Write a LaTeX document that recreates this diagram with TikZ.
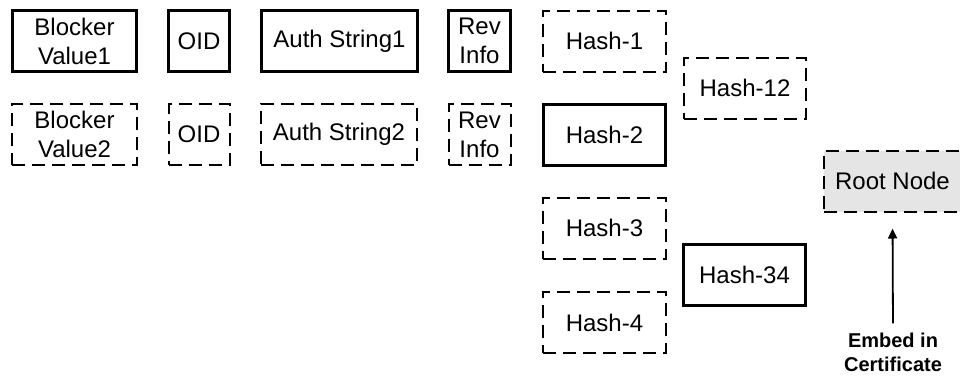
\documentclass[tikz,border=0pt]{standalone}
\usepackage{fontspec}
\setmainfont{Liberation Sans}
\usetikzlibrary{arrows.meta}
\tikzset{
  solidbox/.style={draw, line width=3.3pt, inner sep=0pt, align=center, minimum height=61pt},
  dashbox/.style={draw, line width=2pt, dash pattern=on 13pt off 7pt, inner sep=0pt, align=center, minimum height=61pt},
}
\begin{document}
\begin{tikzpicture}[x=1pt, y=-1pt, font=\fontsize{24}{29}\selectfont]
\useasboundingbox (0,0) rectangle (960,376);
% first row
\node[solidbox, minimum width=124pt] (bv1) at (74.5,41) {Blocker\\Value1};
\node[solidbox, minimum width=61pt] (oid1) at (199,41) {OID};
\node[solidbox, minimum width=156pt] (auth1) at (339.5,41) {Auth String1};
\node[solidbox, minimum width=62pt] (rev1) at (479.5,41) {Rev\\Info};
% second row
\node[dashbox, minimum width=125pt] (bv2) at (74.5,134.5) {Blocker\\Value2};
\node[dashbox, minimum width=61pt] (oid2) at (199,134.5) {OID};
\node[dashbox, minimum width=156pt] (auth2) at (339,134.5) {Auth String2};
\node[dashbox, minimum width=62pt] (rev2) at (479.5,134.5) {Rev\\Info};
% hash tree
\node[dashbox, minimum width=123pt] (h1) at (604.5,41) {Hash-1};
\node[solidbox, minimum width=122pt] (h2) at (604.5,135) {Hash-2};
\node[dashbox, minimum width=123pt] (h3) at (604.5,228) {Hash-3};
\node[dashbox, minimum width=123pt] (h4) at (604.5,322.5) {Hash-4};
\node[dashbox, minimum width=122pt] (h12) at (745,88) {Hash-12};
\node[solidbox, minimum width=122pt] (h34) at (744.5,275) {Hash-34};
\node[dashbox, fill=black!10, minimum width=137pt] (root) at (892.5,181) {Root Node};
% embed
\node[font=\fontsize{20}{24}\selectfont\bfseries, align=center, inner sep=0pt] (embed) at (893,352) {Embed in\\Certificate};
\draw[line width=1.8pt, -{Triangle[length=10pt,width=9pt]}, shorten >=16pt, shorten <=9pt] (embed.north) -- (root.south);
\end{tikzpicture}
\end{document}
